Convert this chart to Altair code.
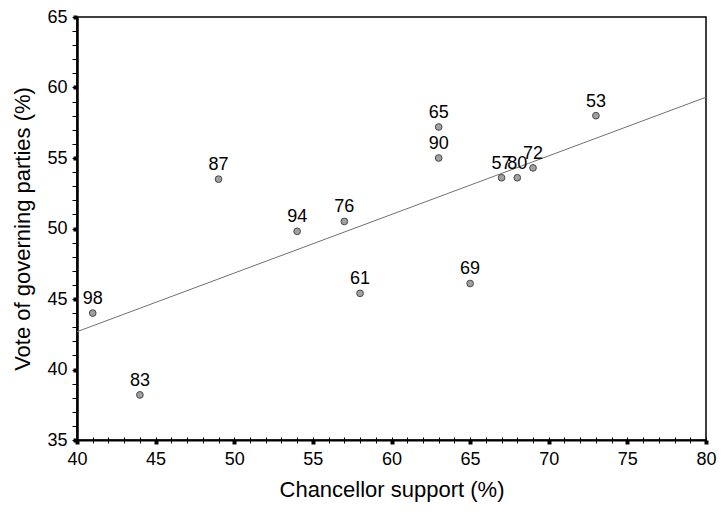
import altair as alt
import pandas as pd

# Data
years = ["98", "83", "87", "94", "76", "61", "65", "90", "69", "57", "80", "72", "53"]
support = [41, 44, 49, 54, 57, 58, 63, 63, 65, 67, 68, 69, 73]
vote = [44.0, 38.2, 53.5, 49.8, 50.5, 45.4, 57.2, 55.0, 46.1, 53.6, 53.6, 54.3, 58.0]

x_major = [40, 45, 50, 55, 60, 65, 70, 75, 80]
y_major = [35, 40, 45, 50, 55, 60, 65]
x_minor = list(range(40, 81))
y_minor = list(range(35, 66))

df = pd.DataFrame({"year": years, "support": support, "vote": vote})

FONT = "Liberation Sans"
xs = alt.Scale(domain=[40, 80], nice=False, zero=False)
ys = alt.Scale(domain=[35, 65], nice=False, zero=False)

base = alt.Chart(df)

points = base.mark_circle(size=45, color="#a0a0a0", stroke="#484848",
                          strokeWidth=1, opacity=1).encode(
    x=alt.X("support:Q", scale=xs,
            axis=alt.Axis(values=x_major, orient="bottom", title="Chancellor support (%)",
                          tickSize=4, tickWidth=4, tickColor="black",
                          domainColor="black", domainWidth=2,
                          labelFont=FONT, labelFontSize=18, labelColor="black",
                          labelPadding=6, labelFlush=False, labelOverlap=False, grid=False,
                          titleFont=FONT, titleFontSize=22, titleFontWeight="normal",
                          titleColor="black", titlePadding=11)),
    y=alt.Y("vote:Q", scale=ys,
            axis=alt.Axis(values=y_major, orient="left", title="Vote of governing parties (%)",
                          tickSize=4, tickWidth=4, tickColor="black",
                          domainColor="black", domainWidth=2.5,
                          labelFont=FONT, labelFontSize=18, labelColor="black",
                          labelPadding=6, labelFlush=False, labelOverlap=False, grid=False,
                          titleFont=FONT, titleFontSize=22, titleFontWeight="normal",
                          titleColor="black", titlePadding=12)),
)

minor = base.mark_point(opacity=0).encode(
    x=alt.X("support:Q", scale=xs,
            axis=alt.Axis(values=x_minor, orient="bottom", labels=False, domain=False,
                          title=None, tickSize=6, tickWidth=1, tickColor="black",
                          offset=-3, grid=False)),
    y=alt.Y("vote:Q", scale=ys,
            axis=alt.Axis(values=y_minor, orient="left", labels=False, domain=False,
                          title=None, tickSize=5, tickWidth=1, tickColor="black",
                          grid=False)),
)

labels = base.mark_text(dy=-14, fontSize=18, font=FONT, color="black").encode(
    x=alt.X("support:Q", scale=xs, axis=None),
    y=alt.Y("vote:Q", scale=ys, axis=None),
    text="year:N",
)

fit = base.transform_regression("support", "vote", extent=[40, 80]).mark_line(
    color="#707070", strokeWidth=1
).encode(
    x=alt.X("support:Q", scale=xs, axis=None),
    y=alt.Y("vote:Q", scale=ys, axis=None),
)

chart = alt.layer(fit, points, labels, minor).resolve_axis(
    x="independent", y="independent"
).properties(
    width=629, height=423,
    autosize=alt.AutoSizeParams(type="none"),
    padding={"left": 69, "top": 9, "right": 11, "bottom": 68},
).configure_view(stroke="black", strokeWidth=1.5)

chart.save("out.html", embed_options={"renderer": "svg", "actions": False})
